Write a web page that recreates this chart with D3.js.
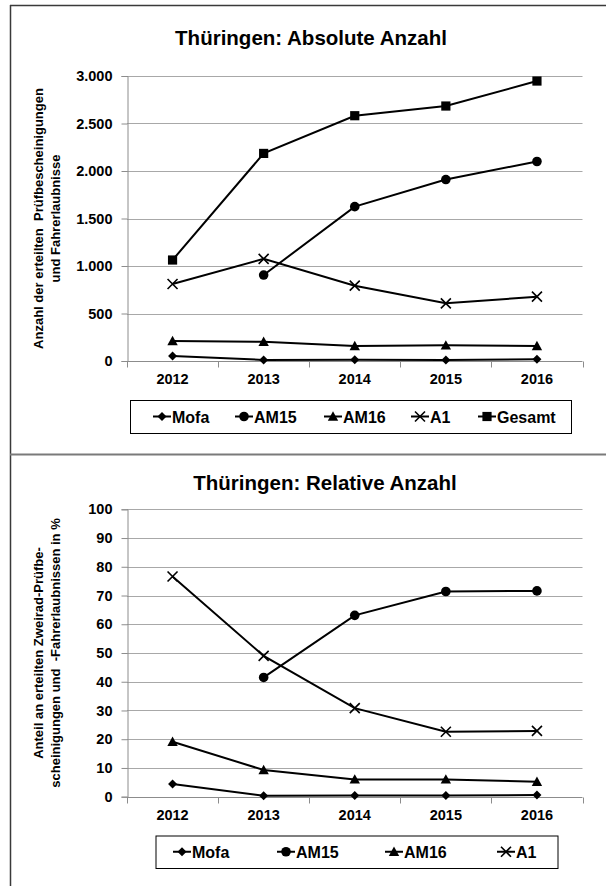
<!DOCTYPE html>
<html>
<head>
<meta charset="utf-8">
<script src="https://cdn.jsdelivr.net/npm/d3@7/dist/d3.min.js"></script>
<style>
  html, body { margin: 0; padding: 0; background: #fff; }
  svg { display: block; }
  text { font-family: Arial, "Liberation Sans", sans-serif; font-weight: bold; fill: #000; }
</style>
</head>
<body>
<svg id="chart" width="606" height="886"></svg>
<script>
// Years on the category axis
const years = ["2012", "2013", "2014", "2015", "2016"];

// Absolute numbers of issued certificates / licences (Thüringen)
const absMofa   = [53, 11, 14, 10, 18];
const absAM15   = [null, 905, 1625, 1910, 2100];
const absAM16   = [210, 203, 158, 165, 158];
const absA1     = [810, 1075, 793, 607, 677];
const absGesamt = [1063, 2185, 2582, 2684, 2947];

// Shares in percent
const relMofa = [4.4, 0.3, 0.4, 0.4, 0.6];
const relAM15 = [null, 41.5, 63.1, 71.4, 71.6];
const relAM16 = [19.1, 9.3, 6.0, 6.0, 5.2];
const relA1   = [76.6, 49.0, 30.8, 22.6, 22.9];

// Axis ticks
const absTicks = [0, 500, 1000, 1500, 2000, 2500, 3000];
const relTicks = [0, 10, 20, 30, 40, 50, 60, 70, 80, 90, 100];

// Series names and their marker shapes
const seriesNames = ["Mofa", "AM15", "AM16", "A1", "Gesamt"];
const seriesMarkers = ["diamond", "circle", "triangle", "cross", "square"];

const svg = d3.select("#chart");
const de = d3.formatLocale({ decimal: ",", thousands: ".", grouping: [3], currency: ["", " €"] });
const fmtThousands = de.format(",");

// Marker path built with d3.path
function markerPath(type) {
  const p = d3.path();
  if (type === "diamond") {
    const r = 4.5;
    p.moveTo(0, -r); p.lineTo(r, 0); p.lineTo(0, r); p.lineTo(-r, 0); p.closePath();
  } else if (type === "circle") {
    p.arc(0, 0, 4.8, 0, 2 * Math.PI); p.closePath();
  } else if (type === "triangle") {
    const r = 5.2;
    p.moveTo(0, -r); p.lineTo(r, r * 0.8); p.lineTo(-r, r * 0.8); p.closePath();
  } else if (type === "square") {
    const r = 4.6;
    p.rect(-r, -r, 2 * r, 2 * r);
  } else if (type === "cross") {
    const r = 5;
    p.moveTo(-r, -r); p.lineTo(r, r); p.moveTo(r, -r); p.lineTo(-r, r);
  }
  return p.toString();
}

function drawMarker(g, type, x, y) {
  const m = g.append("path")
    .attr("d", markerPath(type))
    .attr("transform", `translate(${x},${y})`);
  if (type === "cross") m.attr("fill", "none").attr("stroke", "#000").attr("stroke-width", 1.6);
  else m.attr("fill", "#000").attr("stroke", "none");
}

function drawChart(cfg) {
  const g = svg.append("g");

  const x = d3.scaleBand().domain(years).range([cfg.left, cfg.right]);
  const y = d3.scaleLinear().domain([0, cfg.max]).range([cfg.bottom, cfg.top]);
  const cx = d => x(d) + x.bandwidth() / 2;

  // title
  g.append("text")
    .attr("x", cfg.titleX).attr("y", cfg.titleY)
    .attr("text-anchor", "middle")
    .style("font-size", "20.5px")
    .text(cfg.title);

  // gridlines
  g.append("g").selectAll("line").data(cfg.ticks.filter(t => t > 0)).join("line")
    .attr("x1", cfg.left).attr("x2", cfg.right)
    .attr("y1", d => Math.round(y(d)) + 0.5).attr("y2", d => Math.round(y(d)) + 0.5)
    .attr("stroke", "#a8a8a8").attr("stroke-width", 1);

  // y axis
  const yAxis = g.append("g")
    .attr("transform", `translate(${cfg.left + 0.5},0)`)
    .call(d3.axisLeft(y).tickValues(cfg.ticks).tickFormat(cfg.format).tickSize(6).tickPadding(9));
  yAxis.select(".domain").attr("stroke", "#8c8c8c");
  yAxis.selectAll(".tick line").attr("stroke", "#8c8c8c");
  yAxis.selectAll(".tick text")
    .style("font-size", "14.5px")
    .style("font-family", "Arial, 'Liberation Sans', sans-serif")
    .style("font-weight", "bold")
    .attr("fill", "#000");

  // x axis: baseline with ticks on category boundaries
  const xAxisY = Math.round(y(0)) + 0.5;
  g.append("line")
    .attr("x1", cfg.left).attr("x2", cfg.right)
    .attr("y1", xAxisY).attr("y2", xAxisY)
    .attr("stroke", "#8c8c8c");
  const bounds = years.map(d => x(d)).concat([x.range()[1]]);
  g.append("g").selectAll("line").data(bounds).join("line")
    .attr("x1", d => Math.round(d) + 0.5).attr("x2", d => Math.round(d) + 0.5)
    .attr("y1", xAxisY).attr("y2", xAxisY + 6)
    .attr("stroke", "#8c8c8c");
  g.append("g").selectAll("text").data(years).join("text")
    .attr("x", d => cx(d)).attr("y", cfg.yearY)
    .attr("text-anchor", "middle")
    .style("font-size", "14.5px")
    .text(d => d);

  // y axis title (two lines, rotated)
  const yt = g.append("text")
    .attr("transform", `translate(0,${(cfg.top + cfg.bottom) / 2}) rotate(-90)`)
    .attr("text-anchor", "middle")
    .style("font-size", "13px");
  cfg.yTitle.forEach((line, i) => {
    yt.append("tspan").attr("x", 0).attr("y", cfg.yTitleX[i]).attr("xml:space", "preserve").text(line);
  });

  // series lines and markers
  const line = d3.line()
    .defined(d => d.v != null)
    .x(d => cx(d.year))
    .y(d => y(d.v));

  cfg.series.forEach((vals, si) => {
    const pts = years.map((yr, i) => ({ year: yr, v: vals[i] }));
    g.append("path")
      .attr("d", line(pts))
      .attr("fill", "none")
      .attr("stroke", "#000")
      .attr("stroke-width", 2);
    pts.filter(d => d.v != null).forEach(d => drawMarker(g, seriesMarkers[si], cx(d.year), y(d.v)));
  });

  // legend
  const lg = g.append("g");
  lg.append("rect")
    .attr("x", cfg.legend.x + 0.5).attr("y", cfg.legend.y + 0.5)
    .attr("width", cfg.legend.w).attr("height", cfg.legend.h)
    .attr("fill", "#fff").attr("stroke", "#000").attr("stroke-width", 1);
  const ly = cfg.legend.y + cfg.legend.h / 2;
  cfg.series.forEach((vals, si) => {
    const tx = cfg.legend.textX[si];
    lg.append("line")
      .attr("x1", tx - 19).attr("x2", tx - 1)
      .attr("y1", ly).attr("y2", ly)
      .attr("stroke", "#000").attr("stroke-width", 2);
    drawMarker(lg, seriesMarkers[si], tx - 10, ly);
    lg.append("text")
      .attr("x", tx).attr("y", ly + 6)
      .style("font-size", "16px")
      .text(seriesNames[si]);
  });
}

// frame around both charts
svg.append("line").attr("x1", 10).attr("x2", 606).attr("y1", 5.5).attr("y2", 5.5)
  .attr("stroke", "#3a3a3a").attr("stroke-width", 1.5);
svg.append("line").attr("x1", 10.5).attr("x2", 10.5).attr("y1", 5).attr("y2", 886)
  .attr("stroke", "#3a3a3a").attr("stroke-width", 1.5);
svg.append("line").attr("x1", 10).attr("x2", 606).attr("y1", 454.5).attr("y2", 454.5)
  .attr("stroke", "#7a7a7a").attr("stroke-width", 2);

drawChart({
  title: "Thüringen: Absolute Anzahl",
  titleX: 311, titleY: 45,
  left: 127, right: 582.5, top: 76, bottom: 361,
  max: 3000, ticks: absTicks, format: fmtThousands,
  yearY: 384,
  yTitle: ["Anzahl der erteilten  Prüfbescheinigungen", "und Fahrerlaubnisse"],
  yTitleX: [43, 60],
  series: [absMofa, absAM15, absAM16, absA1, absGesamt],
  legend: { x: 130, y: 400, w: 441, h: 33, textX: [172, 254, 343, 430, 497] }
});

drawChart({
  title: "Thüringen: Relative Anzahl",
  titleX: 325, titleY: 490,
  left: 127, right: 582.5, top: 509.3, bottom: 796.7,
  max: 100, ticks: relTicks, format: d3.format("d"),
  yearY: 820,
  yTitle: ["Anteil an erteilten Zweirad-Prüfbe-", "scheinigungen und  -Fahrerlaubnissen in %"],
  yTitleX: [43, 60],
  series: [relMofa, relAM15, relAM16, relA1],
  legend: { x: 155.5, y: 835.5, w: 402, h: 32.5, textX: [192, 296, 404, 516] }
});
</script>
</body>
</html>
